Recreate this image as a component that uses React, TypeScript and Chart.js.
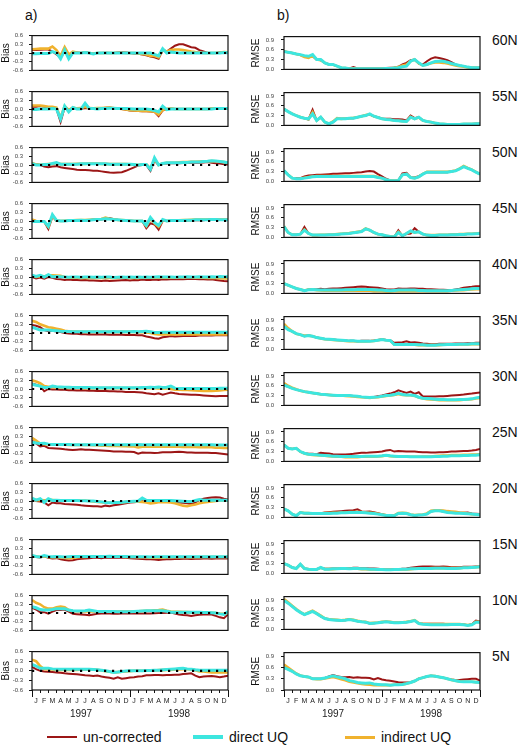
import React, { useEffect, useRef } from "react";
import { Chart, registerables } from "chart.js";
Chart.register(...registerables);

// ---------- axes / categories ----------
const HALF_MONTHS = [0,0.5,1,1.5,2,2.5,3,3.5,4,4.5,5,5.5,6,6.5,7,7.5,8,8.5,9,9.5,10,10.5,11,11.5,12,12.5,13,13.5,14,14.5,15,15.5,16,16.5,17,17.5,18,18.5,19,19.5,20,20.5,21,21.5,22,22.5,23,23.5,24];
const MONTH_TICKS = [0,1,2,3,4,5,6,7,8,9,10,11,12,13,14,15,16,17,18,19,20,21,22,23,24];
const MONTH_LABEL_POS = [0.5,1.5,2.5,3.5,4.5,5.5,6.5,7.5,8.5,9.5,10.5,11.5,12.5,13.5,14.5,15.5,16.5,17.5,18.5,19.5,20.5,21.5,22.5,23.5];
const MONTH_LABELS = ["J","F","M","A","M","J","J","A","S","O","N","D","J","F","M","A","M","J","J","A","S","O","N","D"];
const YEAR_POS = [6, 18];
const YEAR_LABELS = ["1997", "1998"];
const YEAR_BOUNDS = [0, 12, 24];
const BIAS_TICKS = [-0.6, -0.3, 0, 0.3, 0.6];
const RMSE_TICKS = [0, 0.3, 0.6, 0.9];
const LATITUDES = ["60N","55N","50N","45N","40N","35N","30N","25N","20N","15N","10N","5N"];
const SERIES_NAMES = ["un-corrected", "direct UQ", "indirect UQ"];

// ---------- Bias (left column) ----------
const bias60_unc = [0.10,0.10,0.11,0.12,0.12,0.05,-0.05, -0.15,0.05,-0.10,0.02,0.02,0.00,0.03, 0.00,-0.02,0.00,0.00,0.01,0.00,0.00, 0.02,0.03,0.02,0.00,-0.02,-0.03,-0.05, -0.08,-0.12,-0.15,-0.20,0.10,0.05,0.15, 0.25,0.30,0.30,0.25,0.20,0.18,0.10, 0.05,0.00,0.00,0.00,0.03,0.03,0.02];
const bias60_dir = [-0.03,-0.03,-0.02,-0.02,-0.02,0.05,0.00, -0.20,0.10,-0.20,0.00,0.00,0.00,0.02, 0.00,-0.03,0.00,0.00,0.00,0.00,0.00, 0.00,0.00,0.00,0.00,0.00,0.00,0.00, 0.00,0.00,-0.05,-0.10,0.15,0.00,0.03, 0.02,0.00,0.00,0.00,0.00,0.00,0.00, 0.00,0.00,0.00,0.00,0.00,0.02,0.01];
const bias60_ind = [0.13,0.14,0.15,0.15,0.15,0.22,0.10, -0.10,0.20,-0.05,0.05,0.02,0.00,0.02, 0.00,-0.02,0.00,0.00,0.00,0.00,0.00, 0.01,0.01,0.00,0.00,0.00,-0.02,-0.03, -0.05,-0.10,-0.10,-0.15,0.12,0.05,0.10, 0.12,0.12,0.10,0.08,0.05,0.03,0.02, 0.00,0.00,0.00,0.00,0.02,0.03,0.02];

const bias55_unc = [0.08,0.08,0.10,0.08,0.06,0.05,0.00, -0.45,0.05,-0.05,0.05,0.00,0.02,0.03, 0.03,0.02,0.03,0.03,0.04,0.05,0.03, 0.02,0.00,-0.03,-0.05,-0.06,-0.07,-0.08, -0.08,-0.09,-0.10,-0.25,-0.05,0.00,0.02, 0.00,0.00,0.00,0.00,0.00,0.00,0.00, 0.00,0.00,0.02,0.02,0.02,0.02,0.02];
const bias55_dir = [-0.02,-0.02,0.00,0.00,0.00,0.02,0.00, -0.35,0.10,-0.10,0.05,0.00,0.00,0.20, 0.02,0.02,0.00,0.02,0.02,0.03,0.03, 0.02,0.02,0.02,0.01,0.00,0.00,0.00, 0.00,-0.02,-0.05,-0.10,0.10,-0.02,0.00, 0.00,0.00,0.00,0.00,0.00,0.00,0.00, 0.00,0.00,0.00,0.02,0.02,0.02,0.02];
const bias55_ind = [0.12,0.12,0.12,0.10,0.08,0.08,0.05, -0.30,0.10,-0.03,0.05,0.02,0.03,0.08, 0.03,0.02,0.03,0.03,0.04,0.05,0.03, 0.02,0.00,-0.02,-0.04,-0.05,-0.06,-0.07, -0.07,-0.08,-0.09,-0.20,-0.03,0.00,0.02, 0.00,0.00,0.00,0.00,0.00,0.00,0.00, 0.00,0.00,0.02,0.02,0.02,0.02,0.02];

const bias50_unc = [0.05,0.03,0.00,-0.05,-0.08,-0.05,-0.04, -0.08,-0.10,-0.12,-0.14,-0.16,-0.17,-0.17, -0.18,-0.20,-0.20,-0.22,-0.24,-0.26,-0.27, -0.26,-0.25,-0.20,-0.14,-0.08,-0.02,0.00, 0.00,-0.20,0.15,0.00,0.05,0.05,0.06, 0.06,0.06,0.07,0.07,0.08,0.08,0.08, 0.09,0.10,0.08,0.06,0.05,0.03,0.02];
const bias50_dir = [0.05,0.00,0.00,0.02,0.02,0.05,0.08, 0.03,0.03,0.03,0.03,0.03,0.04,0.04, 0.04,0.04,0.04,0.04,0.04,0.03,0.03, 0.03,0.03,0.03,0.03,0.02,0.00,0.02, 0.02,-0.15,0.25,0.00,0.05,0.08,0.08, 0.08,0.08,0.09,0.09,0.10,0.10,0.10, 0.12,0.13,0.15,0.14,0.12,0.10,0.08];
const bias50_ind = [0.07,0.02,0.01,0.02,0.03,0.04,0.06, 0.03,0.03,0.03,0.03,0.04,0.04,0.04, 0.05,0.05,0.05,0.04,0.04,0.03,0.03, 0.03,0.03,0.03,0.02,0.02,0.00,0.02, 0.02,-0.12,0.20,0.00,0.05,0.08,0.08, 0.08,0.09,0.10,0.10,0.11,0.11,0.12, 0.13,0.13,0.14,0.13,0.12,0.10,0.07];

const bias45_unc = [0.02,0.00,-0.02,-0.03,-0.28,0.15,0.00, 0.00,0.00,0.00,0.00,0.02,0.03,0.02, 0.03,0.05,0.05,0.05,0.08,0.10,0.06, 0.04,0.03,0.02,0.01,0.00,0.00,0.00, -0.25,-0.08,-0.12,-0.30,0.00,0.00,0.00, 0.00,0.02,0.02,0.02,0.03,0.03,0.03, 0.03,0.04,0.05,0.05,0.04,0.04,0.04];
const bias45_dir = [-0.02,-0.02,-0.02,-0.02,-0.18,0.22,0.02, 0.00,0.00,0.02,0.02,0.02,0.03,0.02, 0.03,0.04,0.05,0.06,0.08,0.07,0.05, 0.04,0.03,0.02,0.01,0.00,0.00,0.00, -0.15,0.12,-0.05,-0.15,0.05,0.00,0.02, 0.02,0.02,0.02,0.03,0.03,0.04,0.04, 0.04,0.04,0.05,0.05,0.04,0.04,0.04];
const bias45_ind = [0.05,0.00,-0.02,-0.02,-0.20,0.18,0.02, 0.00,0.01,0.02,0.02,0.03,0.03,0.03, 0.04,0.05,0.06,0.07,0.12,0.08,0.06, 0.04,0.03,0.02,0.01,0.00,0.00,0.00, -0.18,0.08,-0.08,-0.20,0.03,0.00,0.02, 0.02,0.02,0.03,0.03,0.04,0.05,0.05, 0.05,0.05,0.06,0.06,0.05,0.05,0.05];

const bias40_unc = [0.00,-0.05,-0.02,-0.06,0.00,-0.03,-0.07, -0.08,-0.10,-0.09,-0.10,-0.10,-0.11,-0.10, -0.12,-0.12,-0.13,-0.14,-0.12,-0.14,-0.13, -0.12,-0.11,-0.10,-0.12,-0.10,-0.11,-0.09, -0.10,-0.10,-0.09,-0.10,-0.08,-0.09,-0.08, -0.08,-0.07,-0.08,-0.07,-0.06,-0.07,-0.08, -0.08,-0.09,-0.08,-0.10,-0.12,-0.14,-0.15];
const bias40_dir = [0.06,0.02,0.06,0.00,0.08,0.01,0.02, 0.01,0.00,-0.01,0.00,0.00,-0.01,0.00, 0.00,-0.01,0.00,-0.01,0.00,0.00,-0.02, -0.01,0.00,-0.01,0.00,-0.01,0.00,-0.01, 0.00,-0.01,0.00,0.01,0.00,0.00,0.00, -0.01,0.00,0.00,0.01,0.00,0.00,0.01, 0.00,0.00,0.01,0.00,0.02,0.01,0.01];
const bias40_ind = [0.03,0.00,0.03,0.02,0.06,0.06,0.05, 0.04,0.00,-0.02,-0.02,-0.02,-0.03,-0.02, -0.03,-0.03,-0.03,-0.03,-0.02,-0.03,-0.03, -0.03,-0.02,-0.02,-0.03,-0.02,-0.03,-0.02, -0.02,-0.02,-0.02,-0.02,-0.02,-0.02,-0.02, -0.02,-0.01,-0.02,-0.01,-0.01,-0.02,-0.02, -0.02,-0.03,-0.03,-0.03,-0.04,-0.05,-0.05];

const bias35_unc = [0.28,0.25,0.20,0.10,0.06,0.08,0.05, 0.03,0.00,-0.02,-0.03,-0.03,-0.04,-0.04, -0.05,-0.05,-0.05,-0.05,-0.05,-0.06,-0.06, -0.06,-0.06,-0.07,-0.07,-0.07,-0.08,-0.08, -0.12,-0.15,-0.18,-0.20,-0.15,-0.13,-0.10, -0.12,-0.11,-0.10,-0.10,-0.10,-0.10,-0.09, -0.09,-0.09,-0.09,-0.08,-0.08,-0.08,-0.08];
const bias35_dir = [0.20,0.15,0.10,0.10,0.10,0.09,0.08, 0.06,0.05,0.05,0.04,0.04,0.04,0.04, 0.04,0.04,0.04,0.04,0.04,0.04,0.05, 0.04,0.04,0.04,0.04,0.05,0.04,0.05, 0.06,0.04,0.02,0.02,0.03,0.03,0.03, 0.03,0.03,0.03,0.03,0.03,0.03,0.03, 0.03,0.03,0.03,0.03,0.03,0.03,0.03];
const bias35_ind = [0.42,0.38,0.30,0.25,0.20,0.18,0.15, 0.12,0.08,0.06,0.05,0.05,0.04,0.04, 0.04,0.04,0.04,0.04,0.04,0.04,0.04, 0.04,0.04,0.04,0.04,0.04,0.03,0.03, 0.02,0.00,-0.03,-0.05,-0.05,-0.04,-0.05, -0.05,-0.05,-0.04,-0.05,-0.05,-0.04,-0.05, -0.05,-0.05,-0.05,-0.05,-0.04,-0.05,-0.05];

const bias30_unc = [0.19,0.15,0.10,-0.08,0.00,-0.02,-0.02, -0.03,-0.03,-0.04,-0.04,-0.05,-0.05,-0.05, -0.06,-0.06,-0.07,-0.07,-0.07,-0.08,-0.08, -0.09,-0.09,-0.10,-0.10,-0.10,-0.11,-0.12, -0.15,-0.16,-0.18,-0.15,-0.20,-0.16,-0.12, -0.15,-0.17,-0.18,-0.19,-0.20,-0.20,-0.21, -0.22,-0.23,-0.24,-0.25,-0.24,-0.24,-0.24];
const bias30_dir = [0.17,0.13,0.10,0.05,0.05,0.10,0.08, 0.07,0.06,0.06,0.05,0.05,0.05,0.05, 0.05,0.04,0.04,0.04,0.04,0.04,0.04, 0.04,0.04,0.04,0.04,0.04,0.04,0.05, 0.05,0.06,0.05,0.07,0.05,0.06,0.10, 0.03,0.02,0.02,0.02,0.02,0.02,0.02, 0.02,0.02,0.02,0.02,0.03,0.03,0.03];
const bias30_ind = [0.30,0.26,0.20,0.10,0.08,0.06,0.05, 0.05,0.04,0.04,0.04,0.04,0.04,0.03, 0.03,0.03,0.03,0.03,0.03,0.03,0.03, 0.03,0.03,0.03,0.03,0.03,0.03,0.03, 0.03,0.03,0.03,0.02,0.02,0.03,0.00, -0.02,-0.02,-0.03,-0.03,-0.04,-0.05,-0.06, -0.07,-0.07,-0.07,-0.06,-0.05,-0.03,-0.02];

const bias25_unc = [0.15,0.05,-0.05,-0.03,-0.10,-0.11,-0.12, -0.13,-0.15,-0.16,-0.17,-0.16,-0.15,-0.16, -0.16,-0.17,-0.18,-0.19,-0.20,-0.21,-0.22, -0.22,-0.22,-0.23,-0.23,-0.24,-0.30,-0.26, -0.27,-0.27,-0.28,-0.27,-0.25,-0.25,-0.25, -0.24,-0.23,-0.24,-0.26,-0.26,-0.27,-0.27, -0.27,-0.27,-0.28,-0.28,-0.29,-0.31,-0.33];
const bias25_dir = [0.10,0.07,0.05,0.06,0.03,0.02,0.02, 0.02,0.02,0.02,0.01,0.01,0.01,0.01, 0.01,0.01,0.01,0.01,0.01,0.01,0.01, 0.01,0.01,0.01,0.01,0.01,0.02,0.01, 0.01,0.01,0.01,0.01,0.01,0.01,0.01, 0.01,0.01,0.01,0.01,0.01,0.01,0.01, 0.01,0.01,0.01,0.00,0.00,0.00,0.00];
const bias25_ind = [0.25,0.15,0.05,0.03,0.02,0.02,0.01, 0.01,0.01,0.00,0.00,0.00,0.00,0.00, 0.00,-0.01,-0.01,-0.02,-0.02,-0.03,-0.03, -0.03,-0.04,-0.04,-0.05,-0.05,-0.08,-0.06, -0.06,-0.06,-0.06,-0.06,-0.06,-0.06,-0.06, -0.06,-0.06,-0.07,-0.07,-0.07,-0.07,-0.08, -0.08,-0.08,-0.08,-0.09,-0.09,-0.10,-0.10];

const bias20_unc = [0.08,0.00,-0.02,-0.05,-0.15,-0.05,-0.08, -0.08,-0.10,-0.11,-0.12,-0.13,-0.15,-0.16, -0.17,-0.18,-0.18,-0.20,-0.16,-0.18,-0.15, -0.13,-0.10,-0.08,-0.05,-0.04,-0.03,-0.01, 0.00,0.00,0.00,-0.01,-0.02,-0.02,-0.03, -0.04,-0.05,-0.06,-0.08,-0.10,-0.05,0.03, 0.08,0.10,0.12,0.13,0.12,0.08,0.05];
const bias20_dir = [0.10,0.03,0.08,-0.05,0.08,0.02,0.03, 0.02,0.02,0.02,0.02,0.02,0.01,0.01, 0.00,0.00,-0.02,-0.03,-0.05,-0.06,-0.05, -0.05,-0.04,-0.03,-0.02,-0.01,0.00,0.10, 0.02,0.02,0.02,0.02,0.02,0.02,0.02, 0.01,0.00,-0.01,-0.02,-0.02,0.02,0.05, 0.03,0.03,0.03,0.03,0.03,0.03,0.03];
const bias20_ind = [0.05,0.03,0.03,0.02,0.03,0.03,0.02, 0.02,0.02,0.02,0.02,0.02,0.01,0.01, 0.00,-0.02,-0.03,-0.04,-0.05,-0.06,-0.05, -0.05,-0.05,-0.03,-0.02,-0.01,-0.02,-0.03, -0.05,-0.08,-0.07,-0.04,-0.03,-0.04,-0.05, -0.08,-0.12,-0.16,-0.18,-0.15,-0.12,-0.08, -0.05,-0.03,-0.02,0.00,0.02,0.02,0.01];

const bias15_unc = [0.03,0.00,-0.02,0.02,-0.03,-0.05,-0.04, -0.08,-0.10,-0.12,-0.11,-0.08,-0.06,-0.05, -0.04,-0.03,-0.03,-0.04,-0.02,-0.03,-0.03, -0.02,-0.03,-0.03,-0.04,-0.05,-0.06,-0.07, -0.08,-0.08,-0.09,-0.10,-0.09,-0.08,-0.08, -0.07,-0.07,-0.06,-0.06,-0.07,-0.06,-0.06, -0.05,-0.05,-0.06,-0.05,-0.05,-0.04,-0.05];
const bias15_dir = [0.05,0.02,0.00,0.05,0.02,0.01,0.02, 0.01,0.00,0.01,0.02,0.02,0.02,0.02, 0.02,0.02,0.02,0.02,0.02,0.03,0.02, 0.02,0.02,0.02,0.01,0.01,0.01,0.01, 0.01,0.00,0.01,0.01,0.01,0.01,0.01, 0.01,0.01,0.01,0.01,0.01,0.01,0.01, 0.01,0.01,0.01,0.01,0.01,0.01,0.01];
const bias15_ind = [0.04,0.02,0.00,0.03,0.00,-0.01,0.00, -0.02,-0.03,-0.04,-0.03,-0.01,0.00,0.00, 0.01,0.01,0.01,0.01,0.01,0.01,0.01, 0.01,0.01,0.00,0.00,0.00,-0.01,-0.01, -0.01,-0.02,-0.02,-0.02,-0.02,-0.01,-0.01, -0.01,-0.01,-0.01,-0.01,-0.01,-0.01,-0.01, 0.00,0.00,0.00,0.00,0.00,0.00,0.00];

const bias10_unc = [0.18,0.12,0.03,0.03,-0.02,0.05,0.10, 0.10,0.12,0.05,-0.03,-0.04,-0.05,-0.06, -0.08,-0.05,-0.03,-0.02,-0.02,-0.02,-0.03, -0.03,-0.02,-0.02,-0.02,-0.02,-0.01,-0.02, -0.02,-0.02,-0.01,0.00,0.00,0.01,0.02, -0.02,-0.05,-0.07,-0.08,-0.10,-0.08,-0.06, -0.05,-0.05,-0.05,-0.10,-0.15,-0.18,-0.05];
const bias10_dir = [0.22,0.18,0.12,0.10,0.10,0.12,0.15, 0.15,0.15,0.10,0.08,0.07,0.07,0.08, 0.10,0.08,0.05,0.05,0.05,0.05,0.05, 0.04,0.04,0.04,0.04,0.05,0.06,0.07, 0.08,0.08,0.08,0.08,0.08,0.06,0.03, 0.03,0.03,0.03,0.03,0.03,0.03,0.03, 0.02,0.02,0.01,0.00,-0.03,-0.05,0.05];
const bias10_ind = [0.45,0.35,0.30,0.20,0.15,0.15,0.20, 0.22,0.20,0.10,0.07,0.06,0.05,0.05, 0.05,0.05,0.05,0.05,0.05,0.05,0.05, 0.05,0.05,0.05,0.05,0.06,0.06,0.07, 0.08,0.08,0.09,0.10,0.12,0.08,0.05, 0.04,0.04,0.03,0.03,0.02,0.02,0.02, 0.02,0.02,0.01,0.00,-0.02,-0.03,-0.01];

const bias5_unc = [0.12,0.05,0.00,-0.02,-0.03,-0.04,-0.05, -0.06,-0.08,-0.09,-0.10,-0.11,-0.12,-0.14, -0.15,-0.16,-0.15,-0.18,-0.20,-0.22,-0.25, -0.20,-0.25,-0.23,-0.21,-0.20,-0.18,-0.17, -0.14,-0.14,-0.13,-0.13,-0.14,-0.13,-0.13, -0.12,-0.12,-0.10,-0.09,-0.08,-0.15,-0.20, -0.18,-0.17,-0.16,-0.18,-0.20,-0.18,-0.15];
const bias5_dir = [0.20,0.15,0.08,0.08,0.08,0.06,0.05, 0.05,0.05,0.05,0.05,0.05,0.05,0.05, 0.05,0.04,0.03,0.02,0.00,-0.02,-0.05, -0.04,-0.02,-0.01,0.00,0.00,0.00,0.00, 0.01,0.01,0.02,0.02,0.03,0.04,0.05, 0.06,0.07,0.08,0.06,0.05,0.03,0.02, 0.02,0.02,0.02,0.02,0.02,0.02,0.02];
const bias5_ind = [0.35,0.30,0.15,0.05,0.05,0.04,0.03, 0.03,0.03,0.03,0.03,0.03,0.04,0.04, 0.05,0.04,0.03,0.01,-0.01,-0.03,-0.05, -0.04,-0.03,-0.02,-0.01,0.00,0.00,0.00, 0.00,0.01,0.01,0.02,0.02,0.03,0.03, 0.04,0.04,0.05,0.05,0.05,0.02,-0.02, -0.02,-0.04,-0.05,-0.05,-0.05,-0.05,-0.05];

// ---------- RMSE (right column) ----------
const rmse60_unc = [0.55,0.52,0.50,0.47,0.44,0.40,0.38, 0.40,0.30,0.28,0.20,0.15,0.14,0.10, 0.05,0.04,0.03,0.07,0.03,0.03,0.03, 0.03,0.03,0.03,0.03,0.04,0.05,0.06, 0.08,0.15,0.20,0.28,0.30,0.18,0.15, 0.25,0.33,0.37,0.35,0.32,0.28,0.22, 0.15,0.12,0.10,0.07,0.05,0.05,0.05];
const rmse60_dir = [0.55,0.52,0.50,0.47,0.45,0.42,0.40, 0.45,0.30,0.30,0.20,0.15,0.15,0.10, 0.05,0.04,0.02,0.02,0.02,0.02,0.02, 0.02,0.02,0.02,0.02,0.03,0.03,0.04, 0.05,0.08,0.10,0.25,0.30,0.20,0.12, 0.15,0.20,0.24,0.25,0.25,0.22,0.18, 0.15,0.12,0.10,0.07,0.05,0.05,0.05];
const rmse60_ind = [0.55,0.52,0.50,0.47,0.44,0.38,0.35, 0.42,0.30,0.28,0.20,0.15,0.14,0.10, 0.05,0.04,0.02,0.03,0.02,0.02,0.02, 0.02,0.02,0.02,0.02,0.03,0.03,0.05, 0.07,0.12,0.15,0.25,0.30,0.18,0.12, 0.15,0.19,0.21,0.21,0.20,0.18,0.15, 0.12,0.10,0.08,0.06,0.05,0.05,0.05];

const rmse55_unc = [0.50,0.42,0.35,0.30,0.25,0.22,0.18, 0.48,0.15,0.25,0.10,0.05,0.10,0.20, 0.20,0.20,0.22,0.22,0.25,0.28,0.30, 0.33,0.28,0.25,0.21,0.20,0.20,0.19, 0.19,0.18,0.15,0.30,0.22,0.25,0.15, 0.12,0.10,0.07,0.05,0.04,0.03,0.03, 0.03,0.03,0.04,0.04,0.04,0.05,0.05];
const rmse55_dir = [0.50,0.42,0.35,0.30,0.25,0.22,0.20, 0.35,0.15,0.25,0.10,0.05,0.10,0.20, 0.20,0.20,0.22,0.22,0.25,0.28,0.30, 0.35,0.28,0.24,0.20,0.18,0.17,0.15, 0.14,0.13,0.12,0.25,0.20,0.25,0.15, 0.12,0.10,0.07,0.05,0.04,0.03,0.03, 0.03,0.03,0.04,0.04,0.04,0.05,0.05];
const rmse55_ind = [0.50,0.42,0.36,0.30,0.26,0.22,0.19, 0.40,0.15,0.25,0.10,0.05,0.12,0.22, 0.20,0.21,0.22,0.23,0.25,0.28,0.32, 0.34,0.28,0.24,0.20,0.18,0.17,0.15, 0.14,0.13,0.12,0.26,0.20,0.24,0.15, 0.12,0.10,0.07,0.05,0.04,0.03,0.03, 0.03,0.03,0.04,0.04,0.04,0.05,0.05];

const rmse50_unc = [0.33,0.20,0.10,0.10,0.10,0.15,0.18, 0.19,0.20,0.20,0.21,0.22,0.23,0.23, 0.24,0.25,0.25,0.26,0.27,0.28,0.30, 0.32,0.30,0.22,0.15,0.08,0.03,0.02, 0.03,0.24,0.26,0.12,0.12,0.16,0.22, 0.28,0.28,0.28,0.28,0.28,0.28,0.30, 0.32,0.38,0.45,0.40,0.35,0.28,0.22];
const rmse50_dir = [0.33,0.20,0.10,0.08,0.08,0.10,0.12, 0.14,0.15,0.15,0.15,0.15,0.15,0.15, 0.15,0.15,0.15,0.15,0.15,0.15,0.15, 0.15,0.15,0.12,0.10,0.05,0.03,0.02, 0.03,0.20,0.22,0.12,0.10,0.14,0.22, 0.28,0.28,0.28,0.28,0.28,0.28,0.30, 0.32,0.38,0.45,0.40,0.35,0.28,0.22];
const rmse50_ind = [0.33,0.20,0.10,0.08,0.09,0.11,0.13, 0.15,0.16,0.16,0.16,0.16,0.16,0.16, 0.16,0.16,0.16,0.16,0.16,0.16,0.16, 0.16,0.16,0.13,0.10,0.05,0.03,0.02, 0.03,0.20,0.23,0.12,0.10,0.14,0.23, 0.29,0.29,0.29,0.29,0.29,0.29,0.31, 0.33,0.39,0.47,0.41,0.36,0.29,0.22];

const rmse45_unc = [0.33,0.15,0.08,0.08,0.10,0.32,0.12, 0.07,0.07,0.07,0.07,0.08,0.08,0.09, 0.10,0.11,0.12,0.14,0.16,0.18,0.26, 0.22,0.15,0.10,0.08,0.05,0.03,0.02, 0.22,0.05,0.10,0.12,0.28,0.17,0.10, 0.07,0.06,0.06,0.07,0.07,0.07,0.08, 0.08,0.09,0.09,0.10,0.10,0.11,0.12];
const rmse45_dir = [0.33,0.15,0.08,0.08,0.10,0.22,0.12, 0.07,0.07,0.07,0.07,0.08,0.08,0.09, 0.10,0.11,0.12,0.14,0.16,0.18,0.26, 0.22,0.15,0.10,0.08,0.05,0.03,0.02, 0.15,0.05,0.12,0.20,0.15,0.17,0.10, 0.07,0.06,0.06,0.07,0.07,0.07,0.08, 0.08,0.09,0.09,0.10,0.10,0.11,0.12];
const rmse45_ind = [0.34,0.15,0.08,0.08,0.10,0.24,0.12, 0.07,0.07,0.08,0.08,0.08,0.09,0.10, 0.11,0.12,0.13,0.15,0.17,0.19,0.27, 0.22,0.15,0.10,0.08,0.05,0.03,0.02, 0.17,0.05,0.12,0.18,0.15,0.17,0.10, 0.07,0.07,0.07,0.08,0.08,0.08,0.09, 0.09,0.10,0.10,0.11,0.11,0.12,0.13];

const rmse40_unc = [0.30,0.25,0.20,0.15,0.12,0.08,0.12, 0.13,0.13,0.14,0.13,0.14,0.15,0.15, 0.16,0.17,0.18,0.19,0.20,0.21,0.20, 0.19,0.18,0.17,0.15,0.13,0.12,0.12, 0.15,0.14,0.14,0.15,0.15,0.14,0.14, 0.13,0.13,0.12,0.11,0.11,0.10,0.10, 0.12,0.14,0.17,0.19,0.20,0.22,0.22];
const rmse40_dir = [0.30,0.25,0.20,0.15,0.12,0.08,0.11, 0.12,0.11,0.10,0.10,0.10,0.10,0.10, 0.10,0.11,0.11,0.11,0.12,0.12,0.12, 0.12,0.11,0.10,0.10,0.09,0.08,0.09, 0.10,0.10,0.10,0.10,0.10,0.09,0.09, 0.08,0.08,0.08,0.08,0.08,0.08,0.09, 0.10,0.11,0.12,0.13,0.14,0.15,0.15];
const rmse40_ind = [0.30,0.25,0.20,0.15,0.12,0.09,0.12, 0.12,0.10,0.09,0.08,0.08,0.08,0.08, 0.08,0.08,0.08,0.08,0.08,0.08,0.08, 0.08,0.07,0.07,0.07,0.06,0.06,0.07, 0.07,0.07,0.07,0.07,0.07,0.07,0.07, 0.07,0.07,0.07,0.07,0.07,0.07,0.08, 0.09,0.10,0.10,0.11,0.12,0.13,0.13];

const rmse35_unc = [0.70,0.60,0.55,0.48,0.45,0.40,0.42, 0.40,0.36,0.34,0.32,0.31,0.30,0.29, 0.28,0.27,0.26,0.26,0.25,0.26,0.26, 0.26,0.27,0.29,0.31,0.29,0.28,0.20, 0.21,0.22,0.25,0.21,0.22,0.20,0.18, 0.17,0.16,0.16,0.17,0.17,0.17,0.17, 0.18,0.18,0.18,0.19,0.19,0.20,0.20];
const rmse35_dir = [0.70,0.60,0.55,0.48,0.45,0.40,0.42, 0.40,0.36,0.34,0.32,0.31,0.30,0.29, 0.28,0.27,0.26,0.26,0.25,0.25,0.25, 0.25,0.26,0.28,0.30,0.28,0.27,0.15, 0.15,0.15,0.15,0.15,0.15,0.14,0.14, 0.13,0.13,0.13,0.14,0.14,0.15,0.15, 0.15,0.16,0.16,0.16,0.17,0.17,0.17];
const rmse35_ind = [0.78,0.65,0.55,0.48,0.45,0.42,0.42, 0.40,0.36,0.33,0.31,0.30,0.29,0.28, 0.27,0.26,0.25,0.25,0.24,0.24,0.24, 0.25,0.26,0.28,0.30,0.28,0.27,0.15, 0.15,0.15,0.15,0.14,0.14,0.13,0.13, 0.13,0.13,0.13,0.13,0.14,0.14,0.14, 0.15,0.15,0.15,0.15,0.16,0.16,0.16];

const rmse30_unc = [0.62,0.57,0.52,0.48,0.45,0.42,0.40, 0.38,0.36,0.34,0.33,0.32,0.31,0.30, 0.30,0.30,0.30,0.29,0.28,0.26,0.25, 0.25,0.26,0.28,0.30,0.33,0.36,0.40, 0.46,0.42,0.38,0.42,0.35,0.40,0.27, 0.27,0.27,0.27,0.28,0.28,0.29,0.30, 0.31,0.32,0.33,0.35,0.36,0.38,0.39];
const rmse30_dir = [0.62,0.57,0.52,0.48,0.45,0.42,0.40, 0.38,0.36,0.34,0.33,0.32,0.31,0.30, 0.30,0.30,0.30,0.29,0.28,0.26,0.25, 0.24,0.25,0.26,0.28,0.30,0.31,0.33, 0.37,0.33,0.32,0.32,0.30,0.25,0.22, 0.21,0.20,0.19,0.18,0.18,0.17,0.17, 0.17,0.18,0.18,0.19,0.20,0.23,0.25];
const rmse30_ind = [0.68,0.60,0.54,0.49,0.45,0.42,0.40, 0.38,0.36,0.34,0.33,0.32,0.31,0.30, 0.30,0.29,0.28,0.27,0.26,0.25,0.24, 0.23,0.24,0.25,0.27,0.29,0.30,0.32, 0.35,0.32,0.31,0.31,0.29,0.24,0.21, 0.19,0.18,0.17,0.16,0.16,0.16,0.16, 0.16,0.16,0.17,0.18,0.19,0.21,0.23];

const rmse25_unc = [0.50,0.40,0.38,0.40,0.30,0.25,0.23, 0.23,0.22,0.26,0.25,0.24,0.22,0.21, 0.21,0.21,0.22,0.23,0.25,0.26,0.26, 0.27,0.28,0.29,0.30,0.33,0.35,0.30, 0.32,0.31,0.30,0.30,0.30,0.29,0.28, 0.28,0.27,0.27,0.28,0.28,0.29,0.30, 0.30,0.31,0.32,0.32,0.33,0.35,0.38];
const rmse25_dir = [0.50,0.40,0.38,0.40,0.30,0.25,0.22, 0.21,0.20,0.19,0.18,0.17,0.16,0.16, 0.15,0.15,0.15,0.15,0.15,0.15,0.16, 0.16,0.16,0.16,0.17,0.19,0.17,0.16, 0.15,0.15,0.15,0.14,0.14,0.14,0.14, 0.14,0.14,0.15,0.15,0.16,0.16,0.17, 0.17,0.17,0.18,0.18,0.19,0.19,0.20];
const rmse25_ind = [0.50,0.41,0.38,0.40,0.30,0.24,0.21, 0.20,0.19,0.18,0.17,0.16,0.15,0.14, 0.14,0.13,0.13,0.13,0.13,0.14,0.14, 0.14,0.14,0.15,0.16,0.18,0.16,0.15, 0.14,0.14,0.14,0.14,0.14,0.14,0.15, 0.15,0.15,0.16,0.17,0.18,0.18,0.19, 0.19,0.19,0.20,0.20,0.21,0.21,0.22];

const rmse20_unc = [0.26,0.20,0.10,0.05,0.15,0.13,0.12, 0.12,0.13,0.13,0.15,0.16,0.17,0.18, 0.19,0.20,0.21,0.22,0.25,0.18,0.17, 0.18,0.16,0.13,0.10,0.07,0.06,0.05, 0.12,0.13,0.12,0.08,0.06,0.07,0.08, 0.10,0.18,0.20,0.20,0.18,0.16,0.15, 0.15,0.14,0.14,0.15,0.12,0.11,0.10];
const rmse20_dir = [0.26,0.20,0.10,0.05,0.15,0.13,0.13, 0.12,0.12,0.12,0.12,0.12,0.13,0.13, 0.14,0.14,0.15,0.15,0.15,0.15,0.14, 0.13,0.12,0.10,0.08,0.06,0.06,0.05, 0.12,0.13,0.12,0.08,0.06,0.07,0.08, 0.10,0.18,0.20,0.20,0.18,0.15,0.14, 0.13,0.13,0.12,0.11,0.10,0.09,0.08];
const rmse20_ind = [0.26,0.20,0.10,0.06,0.15,0.13,0.13, 0.12,0.12,0.12,0.13,0.13,0.14,0.14, 0.15,0.15,0.16,0.16,0.16,0.16,0.15, 0.14,0.13,0.11,0.09,0.07,0.06,0.06, 0.13,0.14,0.13,0.09,0.07,0.08,0.09, 0.12,0.20,0.22,0.22,0.21,0.19,0.18, 0.17,0.15,0.14,0.12,0.10,0.09,0.08];

const rmse15_unc = [0.30,0.25,0.18,0.15,0.28,0.15,0.13, 0.13,0.13,0.18,0.14,0.14,0.15,0.15, 0.16,0.16,0.16,0.17,0.17,0.16,0.16, 0.15,0.15,0.14,0.13,0.12,0.12,0.13, 0.13,0.14,0.15,0.17,0.19,0.20,0.21, 0.21,0.21,0.20,0.20,0.21,0.20,0.19, 0.19,0.19,0.20,0.20,0.20,0.21,0.21];
const rmse15_dir = [0.30,0.25,0.18,0.15,0.28,0.15,0.13, 0.12,0.12,0.18,0.13,0.13,0.14,0.14, 0.15,0.15,0.14,0.15,0.15,0.14,0.14, 0.13,0.13,0.12,0.12,0.11,0.11,0.12, 0.12,0.13,0.13,0.14,0.14,0.15,0.15, 0.15,0.15,0.16,0.16,0.16,0.15,0.15, 0.15,0.16,0.17,0.17,0.18,0.19,0.20];
const rmse15_ind = [0.30,0.25,0.18,0.15,0.27,0.15,0.13, 0.12,0.12,0.17,0.13,0.13,0.13,0.14, 0.14,0.14,0.14,0.14,0.14,0.13,0.13, 0.12,0.12,0.12,0.11,0.11,0.11,0.11, 0.12,0.12,0.12,0.13,0.14,0.15,0.15, 0.15,0.16,0.16,0.16,0.16,0.16,0.16, 0.16,0.16,0.17,0.17,0.18,0.19,0.20];

const rmse10_unc = [0.88,0.80,0.70,0.60,0.52,0.45,0.50, 0.55,0.48,0.40,0.33,0.30,0.29,0.28, 0.27,0.28,0.30,0.28,0.25,0.23,0.22, 0.18,0.19,0.20,0.22,0.23,0.22,0.20, 0.20,0.21,0.22,0.24,0.27,0.18,0.17, 0.17,0.17,0.17,0.17,0.17,0.16,0.16, 0.15,0.15,0.15,0.13,0.16,0.27,0.24];
const rmse10_dir = [0.88,0.80,0.70,0.60,0.52,0.45,0.50, 0.55,0.48,0.40,0.33,0.30,0.29,0.28, 0.27,0.28,0.30,0.28,0.25,0.23,0.22, 0.18,0.19,0.20,0.22,0.23,0.22,0.20, 0.20,0.21,0.22,0.24,0.27,0.18,0.16, 0.15,0.14,0.14,0.14,0.14,0.14,0.15, 0.15,0.15,0.14,0.12,0.14,0.22,0.22];
const rmse10_ind = [0.93,0.83,0.72,0.62,0.53,0.46,0.52, 0.57,0.50,0.42,0.34,0.31,0.30,0.29, 0.28,0.29,0.31,0.29,0.26,0.24,0.23, 0.19,0.20,0.21,0.23,0.24,0.23,0.21, 0.21,0.22,0.23,0.25,0.28,0.19,0.17, 0.16,0.16,0.16,0.16,0.16,0.16,0.16, 0.16,0.16,0.15,0.13,0.15,0.23,0.23];

const rmse5_unc = [0.60,0.55,0.50,0.43,0.38,0.36,0.35, 0.30,0.30,0.30,0.32,0.36,0.40,0.37, 0.35,0.34,0.35,0.33,0.34,0.33,0.33, 0.32,0.28,0.32,0.28,0.26,0.25,0.23, 0.21,0.20,0.20,0.21,0.24,0.30,0.33, 0.36,0.38,0.37,0.35,0.33,0.30,0.28, 0.27,0.27,0.28,0.29,0.30,0.30,0.25];
const rmse5_dir = [0.60,0.55,0.50,0.43,0.38,0.36,0.35, 0.30,0.30,0.30,0.32,0.35,0.38,0.35, 0.33,0.30,0.25,0.23,0.20,0.19,0.18, 0.19,0.16,0.15,0.14,0.14,0.13,0.14, 0.14,0.15,0.17,0.20,0.24,0.30,0.33, 0.36,0.38,0.37,0.35,0.33,0.30,0.27, 0.25,0.23,0.22,0.22,0.22,0.21,0.20];
const rmse5_ind = [0.68,0.60,0.52,0.44,0.39,0.36,0.34, 0.30,0.29,0.29,0.31,0.33,0.35,0.32, 0.29,0.26,0.22,0.20,0.18,0.16,0.15, 0.14,0.13,0.13,0.13,0.13,0.13,0.14, 0.14,0.15,0.17,0.20,0.24,0.30,0.33, 0.36,0.38,0.37,0.35,0.33,0.30,0.27, 0.25,0.23,0.22,0.22,0.22,0.21,0.20];

const BIAS_ROWS = [
  [bias60_unc, bias60_dir, bias60_ind], [bias55_unc, bias55_dir, bias55_ind],
  [bias50_unc, bias50_dir, bias50_ind], [bias45_unc, bias45_dir, bias45_ind],
  [bias40_unc, bias40_dir, bias40_ind], [bias35_unc, bias35_dir, bias35_ind],
  [bias30_unc, bias30_dir, bias30_ind], [bias25_unc, bias25_dir, bias25_ind],
  [bias20_unc, bias20_dir, bias20_ind], [bias15_unc, bias15_dir, bias15_ind],
  [bias10_unc, bias10_dir, bias10_ind], [bias5_unc, bias5_dir, bias5_ind],
];
const RMSE_ROWS = [
  [rmse60_unc, rmse60_dir, rmse60_ind], [rmse55_unc, rmse55_dir, rmse55_ind],
  [rmse50_unc, rmse50_dir, rmse50_ind], [rmse45_unc, rmse45_dir, rmse45_ind],
  [rmse40_unc, rmse40_dir, rmse40_ind], [rmse35_unc, rmse35_dir, rmse35_ind],
  [rmse30_unc, rmse30_dir, rmse30_ind], [rmse25_unc, rmse25_dir, rmse25_ind],
  [rmse20_unc, rmse20_dir, rmse20_ind], [rmse15_unc, rmse15_dir, rmse15_ind],
  [rmse10_unc, rmse10_dir, rmse10_ind], [rmse5_unc, rmse5_dir, rmse5_ind],
];

// ---------- styling / layout ----------
const FONT = '"Liberation Sans", Arial, Helvetica, sans-serif';
const RED = "#9C1616";
const CYAN = "#3DE6DF";
const ORANGE = "#F0B22E";
const PLOT_TOP0 = 32;
const ROW_PITCH = 56;
const PLOT_H = 42;
const PAD_T = 6;
const PAD_R = 4;

Chart.defaults.font.family = FONT;

const boxPlugin = {
  id: "panelBox",
  afterDatasetsDraw(chart: any) {
    const { ctx, chartArea } = chart;
    ctx.save();
    ctx.strokeStyle = "#111";
    ctx.lineWidth = 1.2;
    ctx.strokeRect(chartArea.left, chartArea.top, chartArea.right - chartArea.left, chartArea.bottom - chartArea.top);
    ctx.restore();
  },
};

const yearTickPlugin = {
  id: "yearTicks",
  afterDraw(chart: any) {
    const sx = chart.scales.x;
    if (!sx || !sx.options.display) return;
    const { ctx, chartArea } = chart;
    ctx.save();
    ctx.strokeStyle = "#111";
    ctx.lineWidth = 1;
    YEAR_BOUNDS.forEach((v) => {
      const px = Math.round(sx.getPixelForValue(v)) + 0.5;
      ctx.beginPath();
      ctx.moveTo(px, chartArea.bottom);
      ctx.lineTo(px, chartArea.bottom + 7);
      ctx.stroke();
    });
    ctx.restore();
  },
};

function Panel({ kind, row, series, last }: { kind: "bias" | "rmse"; row: number; series: number[][]; last: boolean }) {
  const ref = useRef<HTMLCanvasElement>(null);
  const isBias = kind === "bias";
  const canvasLeft = isBias ? 0 : 250;
  const plotLeft = isBias ? 32 : 284;
  const plotRight = isBias ? 228 : 480;
  const plotTop = PLOT_TOP0 + row * ROW_PITCH;
  const xAxesH = last ? 3 + 14 + 14 : 0;
  const padB = last ? 4 : 6;
  const width = plotRight + PAD_R - canvasLeft;
  const height = PAD_T + PLOT_H + xAxesH + padB;

  useEffect(() => {
    if (!ref.current) return;
    const toPts = (arr: number[]) => arr.map((y, i) => ({ x: HALF_MONTHS[i], y }));
    const [unc, dir, ind] = series;
    const datasets: any[] = [];
    if (isBias) {
      datasets.push({
        label: "zero",
        data: [{ x: 0, y: 0 }, { x: 24, y: 0 }],
        borderColor: "#000",
        borderWidth: 2.2,
        borderDash: [2.2, 5.8],
        borderCapStyle: "butt",
        pointRadius: 0,
        order: 0,
      });
    }
    datasets.push(
      { label: SERIES_NAMES[1], data: toPts(dir), borderColor: CYAN, borderWidth: 3, pointRadius: 0, tension: 0, order: 1 },
      { label: SERIES_NAMES[2], data: toPts(ind), borderColor: ORANGE, borderWidth: 2.6, pointRadius: 0, tension: 0, order: 2 },
      { label: SERIES_NAMES[0], data: toPts(unc), borderColor: RED, borderWidth: 2, pointRadius: 0, tension: 0, order: 3 },
    );
    const yTicks = isBias ? BIAS_TICKS : RMSE_TICKS;
    const fixH = (h: number) => (s: any) => { if (last) s.height = h; };
    const chart = new Chart(ref.current, {
      type: "line",
      data: { datasets },
      plugins: [boxPlugin, yearTickPlugin],
      options: {
        animation: false,
        responsive: false,
        events: [],
        layout: { padding: { top: PAD_T, right: PAD_R, bottom: padB, left: 0 } },
        plugins: { legend: { display: false }, tooltip: { enabled: false } },
        scales: {
          x: {
            type: "linear",
            position: "bottom",
            weight: 1,
            display: last,
            min: 0,
            max: 24,
            afterBuildTicks: (s: any) => { s.ticks = MONTH_TICKS.map((v) => ({ value: v })); },
            ticks: { display: false, autoSkip: false },
            grid: { display: true, drawOnChartArea: false, drawTicks: true, tickLength: 3, color: "#111", tickWidth: 1 },
            border: { display: false },
            afterFit: fixH(3),
          },
          xm: {
            type: "linear",
            position: "bottom",
            weight: 2,
            display: last,
            min: 0,
            max: 24,
            afterBuildTicks: (s: any) => { s.ticks = MONTH_LABEL_POS.map((v) => ({ value: v })); },
            ticks: {
              autoSkip: false,
              maxRotation: 0,
              minRotation: 0,
              padding: 4,
              color: "#222",
              font: { size: 7, family: FONT },
              callback: (_v: any, i: number) => MONTH_LABELS[i],
            },
            grid: { display: false, drawTicks: false, tickLength: 0 },
            border: { display: false },
            afterFit: fixH(14),
          },
          xy: {
            type: "linear",
            position: "bottom",
            weight: 3,
            display: last,
            min: 0,
            max: 24,
            afterBuildTicks: (s: any) => { s.ticks = YEAR_POS.map((v) => ({ value: v })); },
            ticks: {
              autoSkip: false,
              maxRotation: 0,
              minRotation: 0,
              padding: 1,
              color: "#222",
              font: { size: 10, family: FONT },
              callback: (_v: any, i: number) => YEAR_LABELS[i],
            },
            grid: { display: false, drawTicks: false, tickLength: 0 },
            border: { display: false },
            afterFit: fixH(14),
          },
          y: {
            type: "linear",
            position: "left",
            min: isBias ? -0.6 : 0,
            max: isBias ? 0.6 : 1.0,
            afterBuildTicks: (s: any) => { s.ticks = yTicks.map((v) => ({ value: v })); },
            ticks: {
              autoSkip: false,
              padding: isBias ? 6 : 7,
              color: "#444",
              font: { size: 6, family: FONT },
              callback: (v: any) => (Math.abs(v) < 1e-9 ? "0.0" : Number(v).toFixed(1)),
            },
            grid: { display: true, drawOnChartArea: false, drawTicks: true, tickLength: 3, color: "#111" },
            border: { display: false },
            title: {
              display: true,
              text: isBias ? "Bias" : "RMSE",
              color: "#111",
              font: { size: 10, family: FONT },
              padding: { top: 0, bottom: 0 },
            },
            afterFit: (s: any) => { s.width = plotLeft - canvasLeft; },
          },
        },
      } as any,
    });
    return () => chart.destroy();
  }, []);

  return (
    <canvas
      ref={ref}
      width={width}
      height={height}
      style={{ position: "absolute", left: canvasLeft, top: plotTop - PAD_T, width, height }}
    />
  );
}

function LegendItem({ x, color, thickness, text }: { x: number; color: string; thickness: number; text: string }) {
  return (
    <>
      <div style={{ position: "absolute", left: x, top: 737 - thickness / 2, width: 30, height: thickness, background: color }} />
      <div style={{ position: "absolute", left: x + 36, top: 729, fontSize: 14, lineHeight: "16px", fontFamily: FONT, color: "#111", whiteSpace: "nowrap" }}>{text}</div>
    </>
  );
}

export default function App() {
  return (
    <div style={{ position: "fixed", left: 0, top: 0, width: 521, height: 746, background: "#fff", overflow: "hidden" }}>
      <div style={{ position: "absolute", left: 25, top: 7, fontSize: 14, lineHeight: "16px", fontFamily: FONT, color: "#111" }}>a)</div>
      <div style={{ position: "absolute", left: 277, top: 7, fontSize: 14, lineHeight: "16px", fontFamily: FONT, color: "#111" }}>b)</div>
      {BIAS_ROWS.map((s, r) => (
        <Panel key={"b" + r} kind="bias" row={r} series={s} last={r === BIAS_ROWS.length - 1} />
      ))}
      {RMSE_ROWS.map((s, r) => (
        <Panel key={"r" + r} kind="rmse" row={r} series={s} last={r === RMSE_ROWS.length - 1} />
      ))}
      {LATITUDES.map((lab, r) => (
        <div key={lab} style={{ position: "absolute", left: 492, top: PLOT_TOP0 + r * ROW_PITCH, fontSize: 14, lineHeight: "16px", fontFamily: FONT, color: "#111" }}>{lab}</div>
      ))}
      <LegendItem x={47} color={RED} thickness={2.5} text={SERIES_NAMES[0]} />
      <LegendItem x={193} color={CYAN} thickness={3.5} text={SERIES_NAMES[1]} />
      <LegendItem x={345} color={ORANGE} thickness={3} text={SERIES_NAMES[2]} />
    </div>
  );
}
